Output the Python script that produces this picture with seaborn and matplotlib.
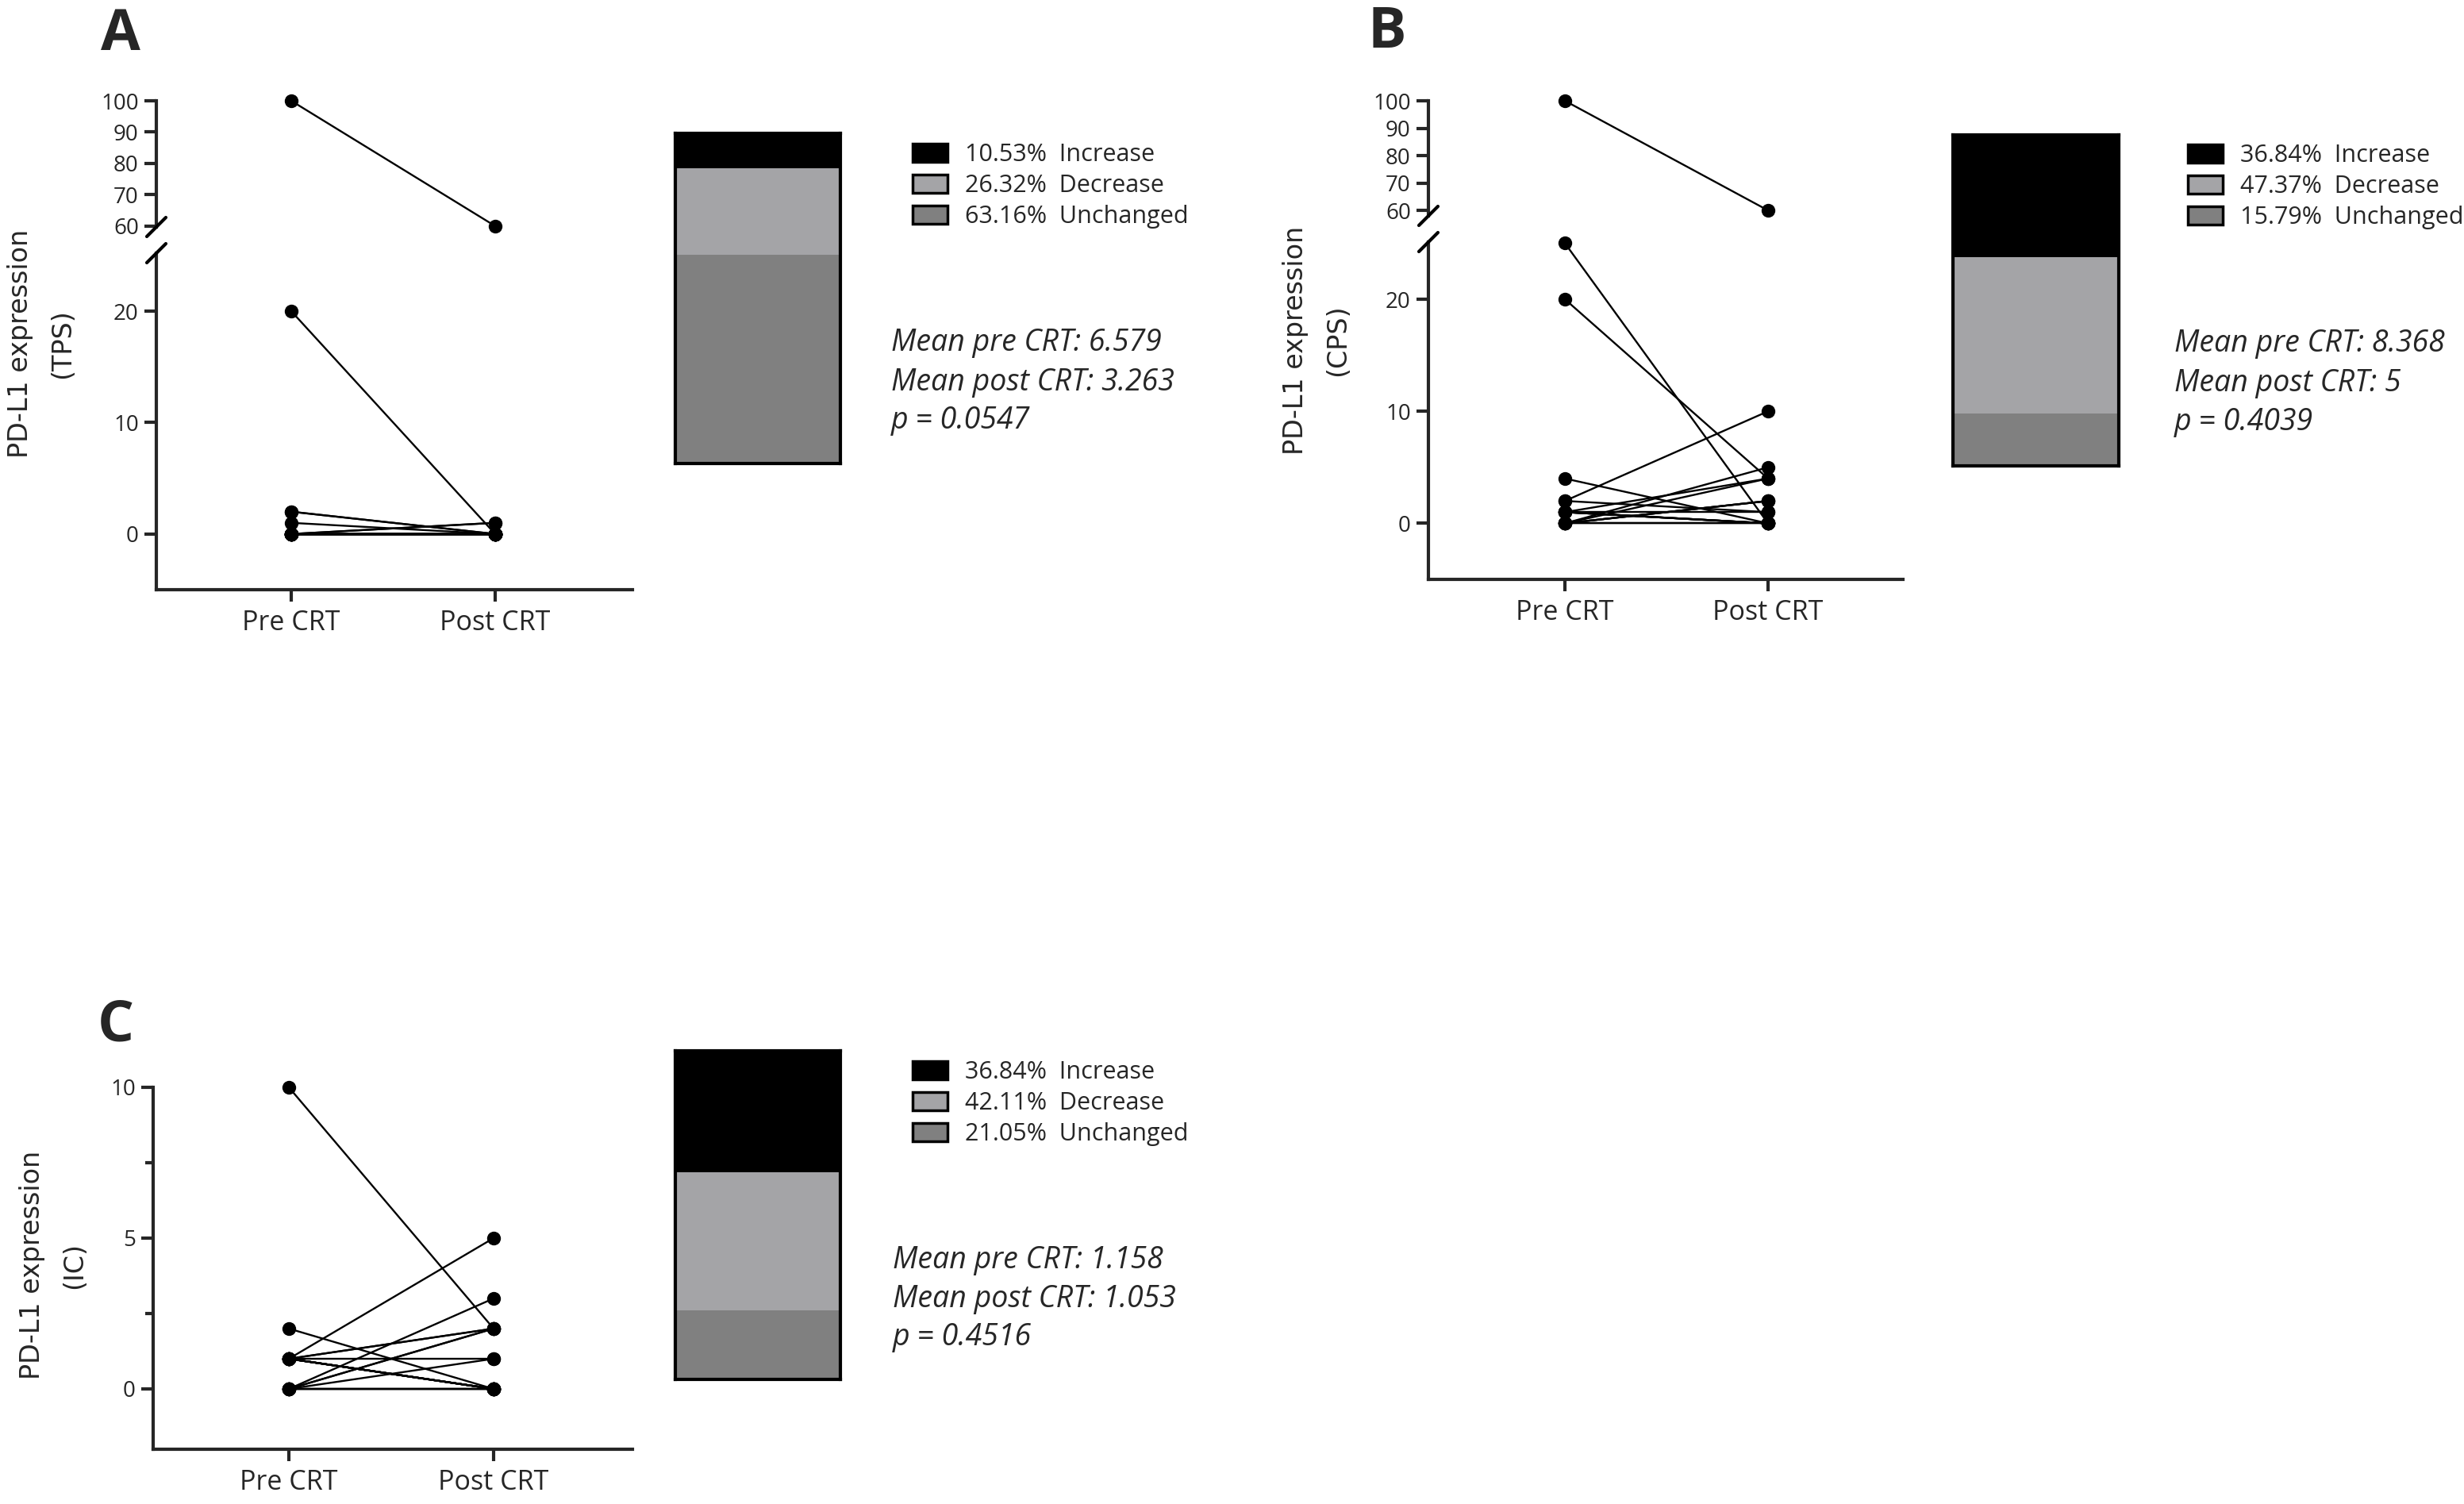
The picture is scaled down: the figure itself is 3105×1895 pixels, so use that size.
import numpy as np
import pandas as pd
import matplotlib
matplotlib.use("Agg")
import matplotlib.pyplot as plt
from matplotlib.lines import Line2D
from matplotlib.patches import Patch
import seaborn as sns

# ---- data ----
times = ["Pre CRT", "Post CRT"]
change_labels = ["Increase", "Decrease", "Unchanged"]

tps_pre  = [100, 20, 2, 2, 1, 0, 0, 0, 0, 0, 0, 0, 0, 0, 0, 0, 0, 0, 0]
tps_post = [60, 0, 0, 0, 0, 1, 1, 0, 0, 0, 0, 0, 0, 0, 0, 0, 0, 0, 0]
tps_share = [10.53, 26.32, 63.16]
tps_stats = ["Mean pre CRT: 6.579", "Mean post CRT: 3.263", "p = 0.0547"]

cps_pre  = [100, 25, 20, 4, 2, 2, 1, 1, 1, 1, 0, 0, 1, 1, 0, 0, 0, 0, 0]
cps_post = [60, 0, 4, 0, 10, 1, 0, 0, 0, 0, 0, 0, 1, 4, 5, 4, 2, 2, 2]
cps_share = [36.84, 47.37, 15.79]
cps_stats = ["Mean pre CRT: 8.368", "Mean post CRT: 5", "p = 0.4039"]

ic_pre  = [10, 2, 1, 1, 1, 1, 1, 1, 1, 1, 1, 1, 0, 0, 0, 0, 0, 0, 0]
ic_post = [2, 0, 0, 0, 0, 0, 0, 0, 5, 2, 2, 1, 3, 2, 2, 1, 0, 0, 0]
ic_share = [36.84, 42.11, 21.05]
ic_stats = ["Mean pre CRT: 1.158", "Mean post CRT: 1.053", "p = 0.4516"]

share_colors = ["#000000", "#a4a4a7", "#808080"]

W, H = 3105, 1895
sns.set_style("ticks")
plt.rcParams["font.family"] = ["Open Sans", "DejaVu Sans"]

fig = plt.figure(figsize=(W / 100, H / 100), dpi=100)


def rect(x0, y0, x1, y1):
    # pixel box (top-left origin) -> figure fraction
    return [x0 / W, 1 - y1 / H, (x1 - x0) / W, (y1 - y0) / H]


def pair_frame(pre, post):
    n = len(pre)
    return pd.DataFrame({
        "pid": list(range(n)) * 2,
        "time": [0] * n + [1] * n,
        "val": list(pre) + list(post),
    })


def draw_pairs(ax, df):
    sns.lineplot(data=df, x="time", y="val", units="pid", estimator=None,
                 color="black", lw=1.7, marker="o", markersize=12.5, mew=0,
                 ax=ax, legend=False)
    for ln in ax.lines:
        ln.set_clip_on(False)
    ax.set_xlabel("")
    ax.set_ylabel("")


def style_axis(ax, bottom=True):
    sns.despine(ax=ax, top=True, right=True, bottom=not bottom)
    for s in ["left", "bottom"]:
        ax.spines[s].set_linewidth(3)
    ax.tick_params(axis="y", width=3, length=11, labelsize=20, pad=5)
    if bottom:
        ax.set_xticks([0, 1])
        ax.set_xticklabels(times)
        ax.tick_params(axis="x", width=3, length=11, labelsize=24.5, pad=7)
    else:
        ax.set_xticks([])
    ax.patch.set_alpha(0)


def break_mark(x, y):
    d = 12
    fig.add_artist(Line2D([(x - d) / W, (x + d) / W], [1 - (y + d) / H, 1 - (y - d) / H],
                          transform=fig.transFigure, color="black", lw=3))


def stacked_bar(box, share):
    ax = fig.add_axes(rect(*box))
    bottoms = [share[2] + share[1], share[2], 0]
    for val, b, c in zip(share, bottoms, share_colors):
        ax.bar(0, val, bottom=b, width=1, color=c, edgecolor="none")
    ax.set_xlim(-0.5, 0.5)
    ax.set_ylim(0, 100)
    ax.set_xticks([])
    ax.set_yticks([])
    for s in ax.spines.values():
        s.set_visible(True)
        s.set_linewidth(3)
        s.set_color("black")
    return ax


def legend_and_stats(share, stats, lx, ly, sx, sy):
    handles = [Patch(facecolor=c, edgecolor="black", linewidth=2.5) for c in share_colors]
    labels = [f"{v:.2f}%  {t}" for v, t in zip(share, change_labels)]
    fig.legend(handles, labels, loc="upper left", bbox_to_anchor=(lx / W, 1 - ly / H),
               bbox_transform=fig.transFigure, frameon=False, fontsize=22,
               handlelength=1.45, handleheight=0.8, handletextpad=0.7,
               labelspacing=0.3, borderpad=0, borderaxespad=0)
    for s, yy in zip(stats, sy):
        fig.text(sx / W, 1 - yy / H, s, fontsize=27, style="italic", va="baseline")


def ylabel(text, x, y):
    fig.text(x / W, 1 - y / H, text, rotation=90, ha="center", va="center",
             fontsize=24, family="DejaVu Sans", linespacing=1.75, multialignment="center")


def panel_letter(letter, x, y):
    fig.text(x / W, 1 - y / H, letter, fontsize=52, fontweight="bold", va="baseline")


# ---------------- Panel A (TPS) ----------------
df = pair_frame(tps_pre, tps_post)
hi = df.groupby("pid")["val"].max() > 30
ax_up = fig.add_axes(rect(197, 127, 797, 286))
ax_lo = fig.add_axes(rect(197, 319, 797, 743))
draw_pairs(ax_up, df[df.pid.isin(hi[hi].index)])
draw_pairs(ax_lo, df[df.pid.isin(hi[~hi].index)])
for a in (ax_up, ax_lo):
    a.set_xlim((197 - 367) / 257, (797 - 367) / 257)
ax_up.set_ylim(59.7, 100)
ax_up.set_yticks([60, 70, 80, 90, 100])
ax_lo.set_ylim(-5, 25.2)
ax_lo.set_yticks([0, 10, 20])
style_axis(ax_up, bottom=False)
style_axis(ax_lo)
break_mark(197, 286)
break_mark(197, 319)
stacked_bar((851, 168, 1059, 584), tps_share)
legend_and_stats(tps_share, tps_stats, 1150, 180, 1123, [442, 492, 540])
ylabel("PD-L1 expression\n(TPS)", 52, 433)
panel_letter("A", 127, 63)

# ---------------- Panel B (CPS) ----------------
df = pair_frame(cps_pre, cps_post)
hi = df.groupby("pid")["val"].max() > 30
ax_up = fig.add_axes(rect(1800, 127, 2398, 272))
ax_lo = fig.add_axes(rect(1800, 305, 2398, 730))
draw_pairs(ax_up, df[df.pid.isin(hi[hi].index)])
draw_pairs(ax_lo, df[df.pid.isin(hi[~hi].index)])
for a in (ax_up, ax_lo):
    a.set_xlim((1800 - 1972) / 256, (2398 - 1972) / 256)
ax_up.set_ylim(58, 100)
ax_up.set_yticks([60, 70, 80, 90, 100])
ax_lo.set_ylim(-5, 25.1)
ax_lo.set_yticks([0, 10, 20])
style_axis(ax_up, bottom=False)
style_axis(ax_lo)
break_mark(1800, 272)
break_mark(1800, 305)
stacked_bar((2461, 170, 2670, 587), cps_share)
legend_and_stats(cps_share, cps_stats, 2757, 181, 2740, [443, 493, 542])
ylabel("PD-L1 expression\n(CPS)", 1659, 429)
panel_letter("B", 1723, 60)

# ---------------- Panel C (IC) ----------------
df = pair_frame(ic_pre, ic_post)
ax_c = fig.add_axes(rect(193, 1370, 797, 1826))
draw_pairs(ax_c, df)
ax_c.set_xlim((193 - 364) / 258, (797 - 364) / 258)
ax_c.set_ylim(-2, 10)
ax_c.set_yticks([0, 5, 10])
ax_c.set_yticks([2.5, 7.5], minor=True)
style_axis(ax_c)
ax_c.tick_params(axis="y", which="minor", width=3, length=7)
stacked_bar((851, 1324, 1059, 1738), ic_share)
legend_and_stats(ic_share, ic_stats, 1150, 1336, 1125, [1598, 1647, 1695])
ylabel("PD-L1 expression\n(IC)", 67, 1594)
panel_letter("C", 123, 1311)

fig.savefig("out.png", dpi=100, facecolor="white")
